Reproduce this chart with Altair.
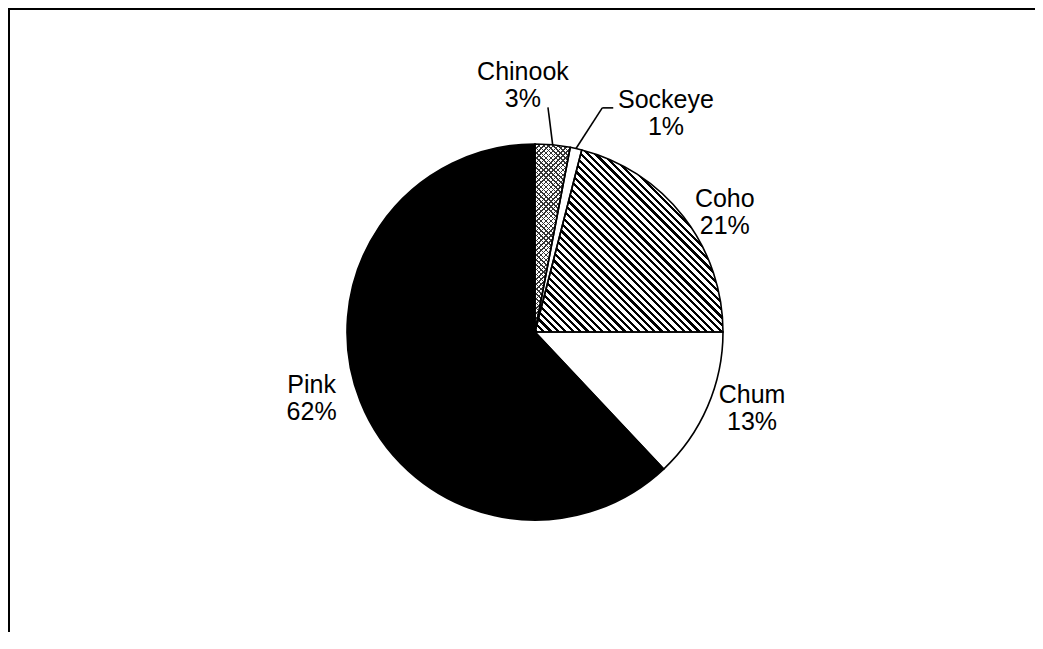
import math
import altair as alt
import pandas as pd

# ---- data ----
species = ["Chinook", "Sockeye", "Coho", "Chum", "Pink"]
percent = [3, 1, 21, 13, 62]

# ---- layout / style ----
W, H = 990, 600
PAD = {"left": 32, "top": 24, "right": 5, "bottom": 0}
R = 188
CX, CY = W / 2, H / 2
FONT = "Liberation Sans"
FS, LH = 25, 27

# label placement (angle shift in degrees from slice middle, radius in px)
LABEL_SHIFT = {"Chinook": -8.2, "Sockeye": 18.3, "Coho": 5.7, "Chum": -4.1, "Pink": 5.1}
LABEL_RADIUS = {"Chinook": 247, "Sockeye": 255, "Coho": 224, "Chum": 230, "Pink": 233}
LEADER_ANGLE = {"Chinook": 3.3, "Sockeye": 16.7}
LEADER_RADIUS = {"Chinook": 225, "Sockeye": 234}
LEADER_TICK = {"Chinook": 0, "Sockeye": 11}

df = pd.DataFrame({"name": species, "value": percent, "order": list(range(len(species)))})


def lookup_expr(d, default=0):
    expr = str(default)
    for k, v in d.items():
        expr = f"(datum.name == '{k}' ? {v} : {expr})"
    return expr


def arc_bbox(a0, a1, r):
    pts = [(0.0, 0.0), (r * math.sin(a0), -r * math.cos(a0)), (r * math.sin(a1), -r * math.cos(a1))]
    for k in range(5):
        a = k * math.pi / 2
        if a0 < a < a1:
            pts.append((r * math.sin(a), -r * math.cos(a)))
    xs = [p[0] for p in pts]
    ys = [p[1] for p in pts]
    return max(xs) - min(xs), max(ys) - min(ys)


def hatch(w, h, gx, gy, spacing, frac, ink, gap):
    n = math.hypot(gx, gy)
    gx, gy = gx / n, gy / n
    corners = [(0, 0), (1, 0), (0, 1), (1, 1)]
    proj = [u * w * gx + v * h * gy for u, v in corners]
    pmin, pmax = min(proj), max(proj)
    L = pmax - pmin
    u0, v0 = corners[proj.index(pmin)]
    ax, ay = w * gx, h * gy
    aa = ax * ax + ay * ay
    dx, dy = L * ax / aa, L * ay / aa
    ns = max(1, round(L / spacing))
    stops = []
    for i in range(ns):
        s = round(i / ns, 6)
        e = round((i + frac) / ns, 6)
        nx = round((i + 1) / ns, 6)
        stops += [
            {"offset": s, "color": ink},
            {"offset": e, "color": ink},
            {"offset": e, "color": gap},
            {"offset": nx, "color": gap},
        ]
    return {"gradient": "linear", "x1": u0, "y1": v0,
            "x2": round(u0 + dx, 6), "y2": round(v0 + dy, 6), "stops": stops}


# slice angles (only used to size the hatch fills)
tot = sum(percent)
cum = 0
angles = {}
for s, p in zip(species, percent):
    angles[s] = (2 * math.pi * cum / tot, 2 * math.pi * (cum + p) / tot)
    cum += p

cw, ch = arc_bbox(*angles["Coho"], R)
coho_fill = hatch(cw, ch, 1, -1, 5.2, 0.45, "#000000", "#ffffff")
kw, kh = arc_bbox(*angles["Chinook"], R)
chin_fill1 = hatch(kw, kh, 1, -1, 3.4, 0.3, "#333333", "rgba(255,255,255,0)")
chin_fill2 = hatch(kw, kh, 1, 1, 3.4, 0.3, "#333333", "rgba(255,255,255,0)")

base = (
    alt.Chart(df)
    .transform_joinaggregate(total="sum(value)")
    .transform_window(cum="sum(value)", sort=[alt.SortField("order")], frame=[None, 0])
    .transform_calculate(
        t0="2*PI*(datum.cum - datum.value)/datum.total",
        t1="2*PI*datum.cum/datum.total",
        mid="PI*(2*datum.cum - datum.value)/datum.total",
    )
)

theta_enc = dict(theta=alt.Theta("t0:Q", scale=None), theta2=alt.Theta2("t1:Q"))

fills = base.mark_arc(radius=R).encode(
    color=alt.Color(
        "name:N",
        scale=alt.Scale(domain=species, range=["#ffffff", "#ffffff", "#ffffff", "#ffffff", "#000000"]),
        legend=None,
    ),
    **theta_enc,
)

coho_h = base.transform_filter("datum.name == 'Coho'").mark_arc(radius=R, fill=coho_fill).encode(**theta_enc)
chin_h1 = base.transform_filter("datum.name == 'Chinook'").mark_arc(radius=R, fill=chin_fill1).encode(**theta_enc)
chin_h2 = base.transform_filter("datum.name == 'Chinook'").mark_arc(radius=R, fill=chin_fill2).encode(**theta_enc)

outline = base.mark_arc(radius=R, fillOpacity=0, stroke="#000000", strokeWidth=1.6).encode(**theta_enc)

labels = (
    base.transform_calculate(
        label="datum.name + '\\n' + datum.value + '%'",
        la=f"datum.mid + PI/180*{lookup_expr(LABEL_SHIFT)}",
        lr=lookup_expr(LABEL_RADIUS, R + 40),
    )
    .mark_text(font=FONT, fontSize=FS, lineHeight=LH, lineBreak="\n",
               align="center", baseline="middle", dy=-LH / 2, color="#000000")
    .encode(theta=alt.Theta("la:Q", scale=None), radius=alt.Radius("lr:Q", scale=None), text="label:N")
)

leaders_src = base.transform_filter("datum.value < 5").transform_calculate(
    la=f"PI/180*{lookup_expr(LEADER_ANGLE)}",
    lrad=lookup_expr(LEADER_RADIUS, R),
    tick=lookup_expr(LEADER_TICK),
).transform_calculate(
    xa=f"{CX} + {R}*sin(datum.mid)",
    ya=f"{CY} - {R}*cos(datum.mid)",
    xb=f"{CX} + datum.lrad*sin(datum.la)",
    yb=f"{CY} - datum.lrad*cos(datum.la)",
).transform_calculate(xc="datum.xb + datum.tick")

leaders = leaders_src.mark_rule(color="#000000", strokeWidth=1.6).encode(
    x=alt.X("xa:Q", scale=None), y=alt.Y("ya:Q", scale=None), x2="xb:Q", y2="yb:Q"
)
ticks = leaders_src.mark_rule(color="#000000", strokeWidth=1.6).encode(
    x=alt.X("xb:Q", scale=None), y=alt.Y("yb:Q", scale=None), x2="xc:Q"
)

one = pd.DataFrame({"k": [0]})
frame_top = alt.Chart(one).mark_rule(color="#000000", strokeWidth=2).encode(
    x=alt.value(-PAD["left"]), x2=alt.value(W + PAD["right"]), y=alt.value(-PAD["top"] + 1)
)
frame_left = alt.Chart(one).mark_rule(color="#000000", strokeWidth=2).encode(
    x=alt.value(-PAD["left"] + 1), y=alt.value(-PAD["top"]), y2=alt.value(H)
)

chart = (
    alt.layer(fills, coho_h, chin_h1, chin_h2, outline, leaders, ticks, labels, frame_top, frame_left)
    .properties(width=W, height=H, padding=PAD, autosize=alt.AutoSizeParams(type="none"))
    .configure_view(stroke=None)
)

chart.save("out.html", embed_options={"renderer": "svg", "actions": False})
